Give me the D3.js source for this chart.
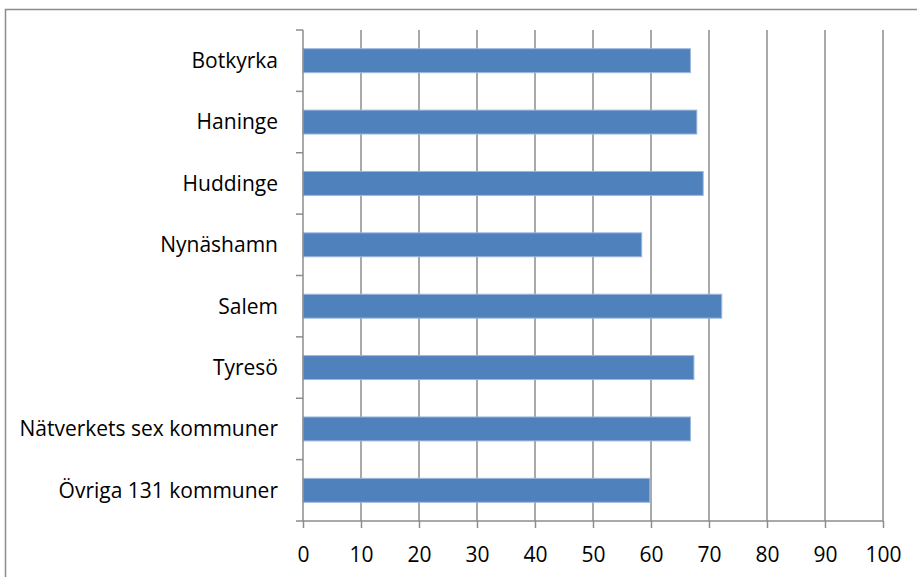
<!DOCTYPE html>
<html>
<head>
<meta charset="utf-8">
<script src="https://cdn.jsdelivr.net/npm/d3@7"></script>
<style>
  body { margin: 0; background: #fff; }
  svg text { font-family: "Open Sans", Lato, sans-serif; fill: #000; }
</style>
</head>
<body>
<svg id="chart" width="917" height="577"></svg>
<script>
// kommuner, top to bottom
var categories = ['Botkyrka', 'Haninge', 'Huddinge', 'Nynäshamn', 'Salem', 'Tyresö',
  'Nätverkets sex kommuner', 'Övriga 131 kommuner'];
var values = [66.8, 67.9, 69.0, 58.4, 72.2, 67.4, 66.8, 59.8];
var xTicks = [0, 10, 20, 30, 40, 50, 60, 70, 80, 90, 100];

var svg = d3.select('#chart');
var margin = {left: 303, top: 30, right: 34, bottom: 56};
var W = 917, H = 577;

// frame around chart
svg.append('rect')
  .attr('x', 5.5).attr('y', 9.5)
  .attr('width', 930).attr('height', 600)
  .attr('fill', 'none')
  .attr('stroke', '#8c8c8c')
  .attr('stroke-width', 1.5);

var x = d3.scaleLinear().domain([0, 100]).range([margin.left, W - margin.right]);
var y = d3.scaleBand().domain(categories)
  .range([margin.top, H - margin.bottom])
  .paddingInner(0.61).paddingOuter(0.305);
var yEdges = d3.scaleLinear().domain([0, categories.length])
  .range([margin.top, H - margin.bottom]);

// GRIDLINES
svg.append('g').selectAll('line')
  .data(xTicks.slice(1))
  .enter().append('line')
    .attr('x1', function(d) { return x(d); })
    .attr('x2', function(d) { return x(d); })
    .attr('y1', margin.top)
    .attr('y2', H - margin.bottom)
    .attr('stroke', '#8c8c8c')
    .attr('stroke-width', 1.5);

// BARS
svg.append('g').selectAll('rect')
  .data(values)
  .enter().append('rect')
    .attr('x', x(0))
    .attr('y', function(d, i) { return y(categories[i]); })
    .attr('width', function(d) { return x(d) - x(0); })
    .attr('height', y.bandwidth())
    .attr('fill', '#4f81bd')
    .attr('stroke', '#9db7dc')
    .attr('stroke-width', 1);

// X AXIS
var xAxis = svg.append('g')
  .attr('transform', 'translate(0,' + (H - margin.bottom) + ')')
  .call(d3.axisBottom(x).tickValues(xTicks).tickSize(7).tickPadding(19).tickSizeOuter(0));
xAxis.select('.domain').attr('stroke', '#8c8c8c').attr('stroke-width', 1.5)
  .attr('d', 'M' + (x(0) - 7) + ',0H' + x(100));
xAxis.selectAll('.tick line').attr('stroke', '#8c8c8c').attr('stroke-width', 1.5);
xAxis.selectAll('.tick text').style('font-size', '21px').attr('fill', '#000');

// Y AXIS - ticks between categories
var yAxis = svg.append('g');
yAxis.append('line')
  .attr('x1', x(0)).attr('x2', x(0))
  .attr('y1', margin.top).attr('y2', H - margin.bottom)
  .attr('stroke', '#8c8c8c').attr('stroke-width', 1.5);
yAxis.selectAll('line.tk')
  .data(d3.range(categories.length))
  .enter().append('line')
    .attr('class', 'tk')
    .attr('x1', x(0) - 7).attr('x2', x(0))
    .attr('y1', function(d) { return yEdges(d); })
    .attr('y2', function(d) { return yEdges(d); })
    .attr('stroke', '#8c8c8c').attr('stroke-width', 1.5);
yAxis.selectAll('text')
  .data(categories)
  .enter().append('text')
    .attr('x', x(0) - 25)
    .attr('y', function(d) { return y(d) + y.bandwidth() / 2; })
    .attr('dy', '0.35em')
    .attr('text-anchor', 'end')
    .style('font-size', '21px')
    .text(function(d) { return d; });
</script>
</body>
</html>
